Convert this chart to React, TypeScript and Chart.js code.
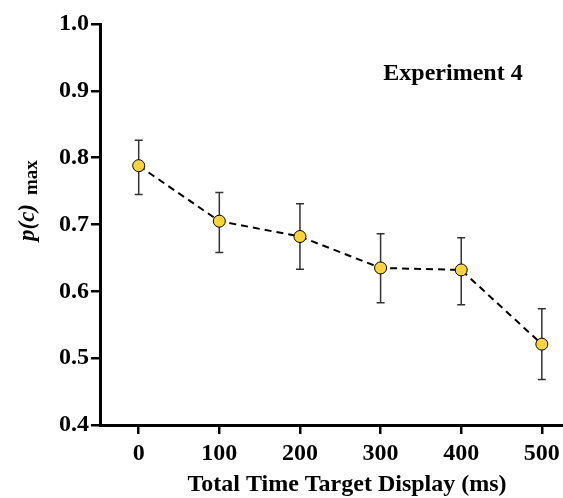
import { useEffect, useRef } from "react"
import { Chart, registerables } from "chart.js"

Chart.register(...registerables)

// display time (ms)
const times = [0, 100, 200, 300, 400, 500]
// p(c) max means and error bar ends
const means = [0.788, 0.705, 0.682, 0.635, 0.632, 0.521]
const upper = [0.826, 0.748, 0.731, 0.686, 0.68, 0.574]
const lower = [0.745, 0.658, 0.633, 0.583, 0.58, 0.468]

const xTicks = [0, 100, 200, 300, 400, 500]
const yTicks = [0.4, 0.5, 0.6, 0.7, 0.8, 0.9, 1.0]

const SERIF = "'Liberation Serif', 'Times New Roman', serif"

const errorBars = {
  id: "errorBars",
  beforeDatasetsDraw(chart: any) {
    const { ctx, scales } = chart
    const x = scales.x
    const y = scales.y
    ctx.save()
    ctx.strokeStyle = "#333"
    ctx.lineWidth = 1.5
    times.forEach((t, i) => {
      const px = x.getPixelForValue(t)
      const top = y.getPixelForValue(upper[i])
      const bot = y.getPixelForValue(lower[i])
      ctx.beginPath()
      ctx.moveTo(px, top)
      ctx.lineTo(px, bot)
      ctx.moveTo(px - 4, top)
      ctx.lineTo(px + 4, top)
      ctx.moveTo(px - 4, bot)
      ctx.lineTo(px + 4, bot)
      ctx.stroke()
    })
    ctx.restore()
  },
}

const labels = {
  id: "labels",
  afterDraw(chart: any) {
    const { ctx } = chart
    ctx.save()
    ctx.fillStyle = "#000"
    ctx.textBaseline = "middle"
    ctx.textAlign = "center"

    // annotation
    ctx.font = `bold 24px ${SERIF}`
    ctx.fillText("Experiment 4", 453, 74)

    // x title
    ctx.font = `bold 24px ${SERIF}`
    ctx.fillText("Total Time Target Display (ms)", 347, 485)

    // y title: p(c) with subscript max
    ctx.translate(34, 241)
    ctx.rotate(-Math.PI / 2)
    ctx.textAlign = "left"
    ctx.textBaseline = "alphabetic"
    ctx.font = `italic bold 23px ${SERIF}`
    ctx.fillText("p(c)", 0, 0)
    const w = ctx.measureText("p(c)").width
    ctx.font = `bold 19px ${SERIF}`
    ctx.fillText("max", w + 9, 3)
    ctx.restore()
  },
}

export default function App() {
  const chartRef = useRef<HTMLCanvasElement>(null)
  const chartInstance = useRef<Chart | null>(null)

  useEffect(() => {
    if (!chartRef.current) return

    if (chartInstance.current) {
      chartInstance.current.destroy()
    }

    const ctx = chartRef.current.getContext("2d")
    if (!ctx) return

    chartInstance.current = new Chart(ctx, {
      type: "line",
      data: {
        datasets: [
          {
            data: times.map((t, i) => ({ x: t, y: means[i] })),
            borderColor: "#000",
            borderWidth: 2,
            borderDash: [7, 5],
            tension: 0,
            fill: false,
            pointRadius: 6,
            pointBackgroundColor: "#FCD535",
            pointBorderColor: "#000",
            pointBorderWidth: 1,
            clip: false,
          },
        ],
      },
      options: {
        responsive: false,
        animation: false,
        layout: { autoPadding: false, padding: { top: 24, right: 1, left: 0, bottom: 0 } },
        scales: {
          x: {
            type: "linear",
            min: -48,
            max: 525,
            afterFit: (scale: any) => {
              scale.height = 73
              scale.paddingLeft = 0
              scale.paddingRight = 0
            },
            afterBuildTicks: (scale: any) => {
              scale.ticks = xTicks.map((v) => ({ value: v }))
            },
            ticks: {
              color: "#000",
              padding: 5,
              font: { family: SERIF, size: 24, weight: "bold" },
            },
            grid: {
              drawOnChartArea: false,
              drawTicks: true,
              tickLength: 9,
              color: "#000",
              lineWidth: 2.5,
            },
            border: { display: true, color: "#000", width: 3 },
          },
          y: {
            type: "linear",
            min: 0.4,
            max: 1.0,
            afterFit: (scale: any) => {
              scale.width = 100
              scale.paddingTop = 0
              scale.paddingBottom = 0
            },
            afterBuildTicks: (scale: any) => {
              scale.ticks = yTicks.map((v) => ({ value: v }))
            },
            ticks: {
              color: "#000",
              padding: 2,
              font: { family: SERIF, size: 24, weight: "bold" },
              callback: (value: any) => Number(value).toFixed(1),
            },
            grid: {
              drawOnChartArea: false,
              drawTicks: true,
              tickLength: 9,
              color: "#000",
              lineWidth: 2.5,
            },
            border: { display: true, color: "#000", width: 3 },
          },
        },
        plugins: {
          legend: { display: false },
          tooltip: { enabled: false },
        },
      },
      plugins: [errorBars, labels],
    })

    return () => {
      if (chartInstance.current) {
        chartInstance.current.destroy()
      }
    }
  }, [])

  return (
    <div style={{ position: "absolute", left: 0, top: 0, width: 563, height: 498, background: "#fff" }}>
      <canvas ref={chartRef} width={563} height={498} />
    </div>
  )
}
